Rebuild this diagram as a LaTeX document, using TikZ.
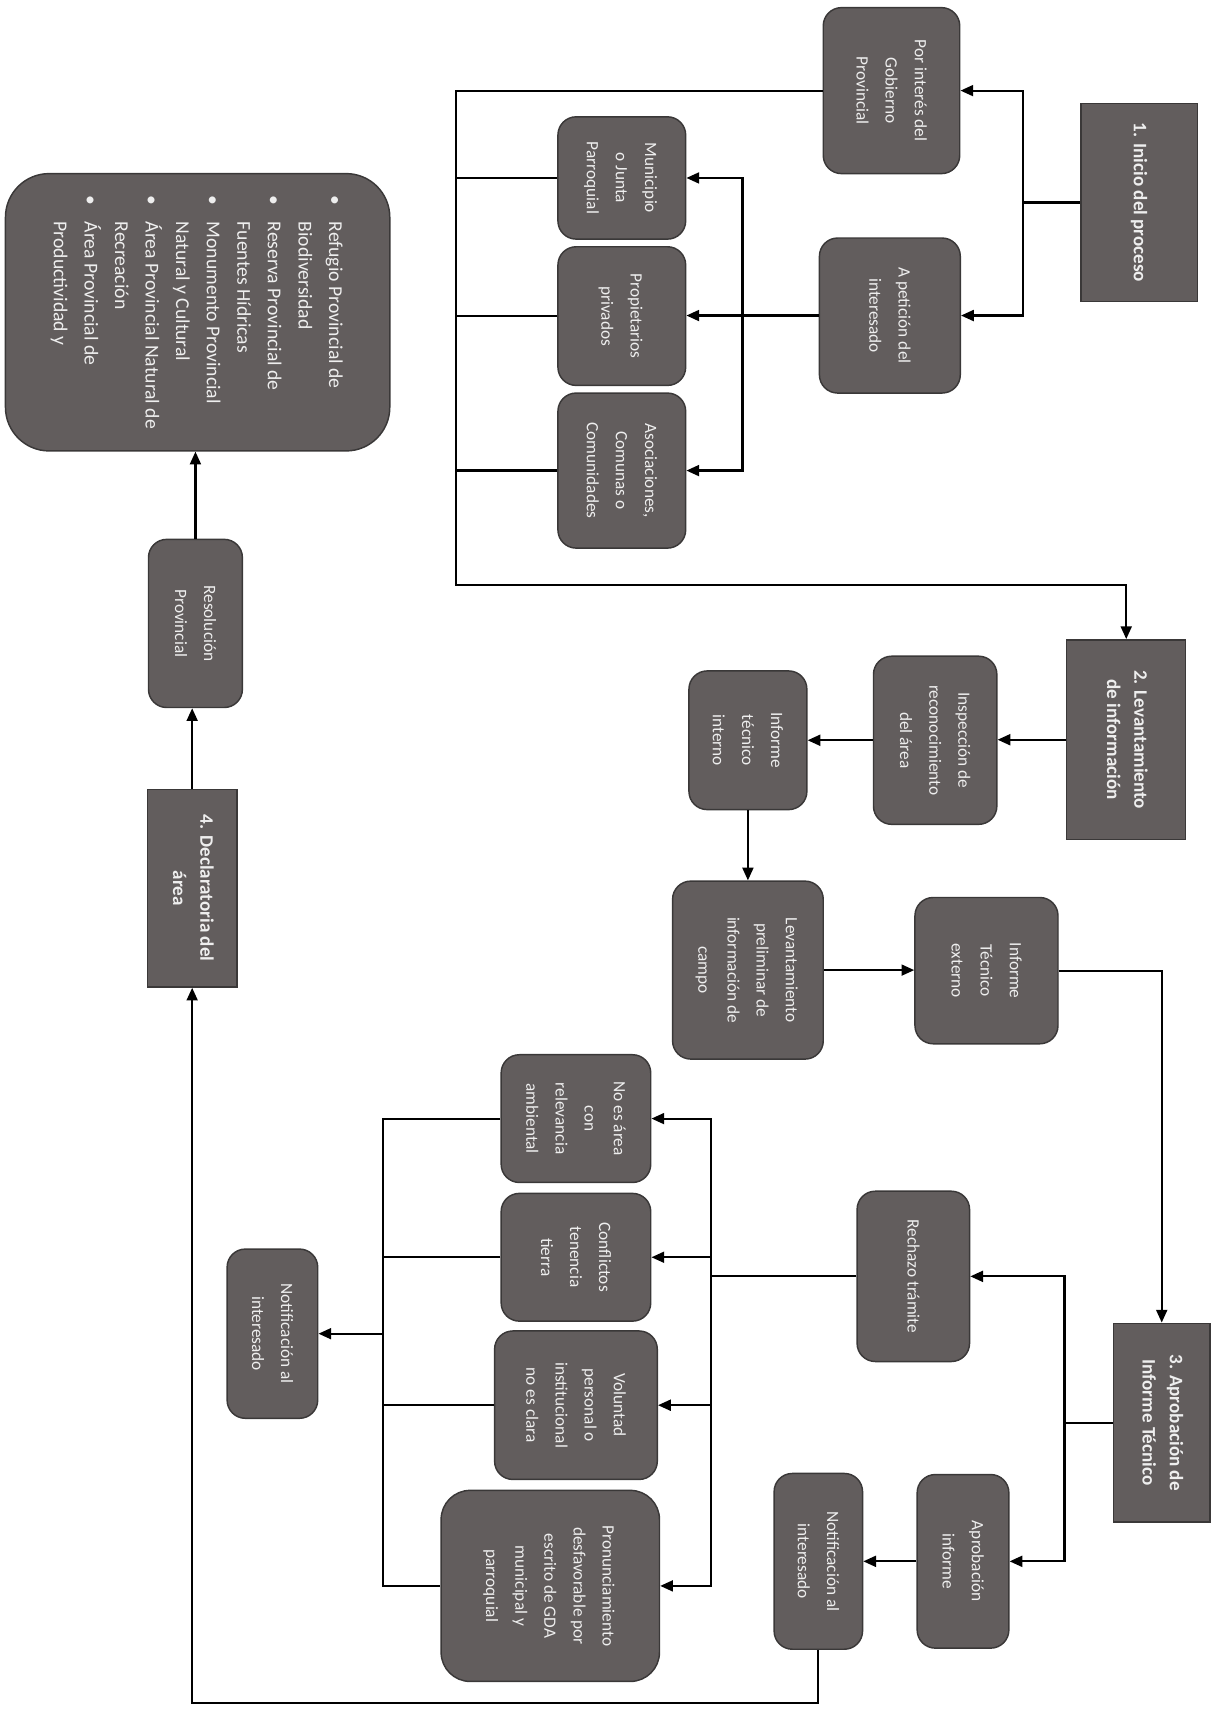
\documentclass[tikz,border=0pt]{standalone}
\usepackage{fontspec}
\setmainfont{Carlito}
\usepackage{graphicx}
\usetikzlibrary{arrows.meta}
\definecolor{caja}{RGB}{98,93,93}
\definecolor{borde}{RGB}{58,56,56}
\definecolor{letra}{RGB}{238,238,238}
\newcommand{\vtxt}[1]{\rotatebox{-90}{\begin{tabular}{@{}c@{}}#1\end{tabular}}}
\tikzset{
    paso/.style =   {rectangle,
                    rounded corners=10pt,
                    fill=caja,
                    draw=borde,
                    thick,
                    text=letra,
                    inner sep=0pt,
                    font=\fontsize{9.5}{16}\selectfont},
    etapa/.style =  {paso,
                    sharp corners,
                    font=\fontsize{10.5}{15}\selectfont\bfseries},
    linea/.style =  {very thick, draw=black},
    flecha/.style = {linea, -{Triangle[length=7pt,width=6pt]}},
    doble/.style =  {linea, {Triangle[length=7pt,width=6pt]}-{Triangle[length=7pt,width=6pt]}}}

\begin{document}
\begin{tikzpicture}[x=0.6pt,y=-0.6pt]
    \useasboundingbox (0,0) rectangle (1111,1568);
    % 1. inicio del proceso
    \node[etapa, minimum width=64.2pt, minimum height=108.6pt] (inicio)       at (1043.5,185.5) {\vtxt{1. Inicio del proceso}};
    \node[paso, minimum width=75pt,   minimum height=91.2pt]  (gobierno)     at (816.5,83)     {\vtxt{Por interés del\\Gobierno\\Provincial}};
    \node[paso, minimum width=77.4pt, minimum height=85.2pt]  (peticion)     at (815,289)      {\vtxt{A petición del\\interesado}};
    \node[paso, minimum width=70.2pt, minimum height=67.2pt]  (municipio)    at (569.5,163)    {\vtxt{Municipio\\o Junta\\Parroquial}};
    \node[paso, minimum width=70.2pt, minimum height=76.2pt]  (propietarios) at (569.5,289.5)  {\vtxt{Propietarios\\privados}};
    \node[paso, minimum width=70.2pt, minimum height=85.2pt]  (asociaciones) at (569.5,431)    {\vtxt{Asociaciones,\\Comunas o\\Comunidades}};
    \coordinate (t1)  at (937,185.5);
    \coordinate (b1)  at (680,289);
    \coordinate (bus) at (418,536);
    \draw[linea]  (inicio.west) -- (t1);
    \draw[doble]  (gobierno.east) -| (t1) |- (peticion.east);
    \draw[flecha] (peticion.west) -- (peticion.west -| propietarios.east);
    \draw[doble]  (municipio.east) -| (b1) |- (asociaciones.east);
    % 2. levantamiento de informacion
    \node[etapa, minimum width=65.4pt, minimum height=109.8pt] (levantamiento) at (1031.5,677.5) {\vtxt{2. Levantamiento\\de información}};
    \node[paso, minimum width=67.8pt, minimum height=92.4pt]  (inspeccion)    at (856.5,678)    {\vtxt{Inspección de\\reconocimiento\\del área}};
    \node[paso, minimum width=64.8pt, minimum height=76.2pt]  (interno)       at (685,678)      {\vtxt{Informe\\técnico\\interno}};
    \node[paso, minimum width=82.8pt, minimum height=97.8pt]  (preliminar)    at (685,888.5)    {\vtxt{Levantamiento\\preliminar de\\información de\\campo}};
    \node[paso, minimum width=78.6pt, minimum height=80.4pt]  (externo)       at (903.5,889)    {\vtxt{Informe\\Técnico\\externo}};
    \draw[flecha] (gobierno.west) -| (bus) -| (levantamiento.north);
    \draw[linea]  (municipio.west) -- (municipio.west -| bus);
    \draw[linea]  (propietarios.west) -- (propietarios.west -| bus);
    \draw[linea]  (asociaciones.west) -- (asociaciones.west -| bus);
    \draw[flecha] (levantamiento.west) -- (levantamiento.west -| inspeccion.east);
    \draw[flecha] (inspeccion.west) -- (inspeccion.west -| interno.east);
    \draw[flecha] (interno.south) -- (preliminar.north);
    \draw[flecha] (preliminar.east) -- (preliminar.east -| externo.west);
    % 3. aprobacion de informe tecnico
    \node[etapa, minimum width=52.8pt, minimum height=109.2pt] (aprobacion)   at (1064,1303)    {\vtxt{3. Aprobación de\\Informe Técnico}};
    \node[paso, minimum width=61.8pt, minimum height=93.6pt]  (rechazo)      at (836.5,1169)   {\vtxt{Rechazo trámite}};
    \node[paso, minimum width=50.4pt, minimum height=95.4pt]  (aprobinforme) at (882,1430)     {\vtxt{Aprobación\\informe}};
    \node[paso, minimum width=48.6pt, minimum height=96.6pt]  (notifB)       at (749.5,1430)   {\vtxt{Notificación al\\interesado}};
    \node[paso, minimum width=82.2pt, minimum height=70.2pt]  (noes)         at (527.5,1024.5) {\vtxt{No es área\\con\\relevancia\\ambiental}};
    \node[paso, minimum width=82.2pt, minimum height=70.2pt]  (conflictos)   at (527.5,1151.5) {\vtxt{Conflictos\\tenencia\\tierra}};
    \node[paso, minimum width=89.4pt, minimum height=81.6pt]  (voluntad)     at (527.5,1287)   {\vtxt{Voluntad\\personal o\\institucional\\no es clara}};
    \node[paso, minimum width=120pt,  minimum height=105pt, rounded corners=16pt] (pronunc) at (504,1452.5) {\vtxt{Pronunciamiento\\desfavorable por\\escrito de GDA\\municipal y\\parroquial}};
    \node[paso, minimum width=49.8pt, minimum height=93pt]    (notifA)       at (249.5,1221.5) {\vtxt{Notificación al\\interesado}};
    \coordinate (t3) at (975,1303);
    \coordinate (b3) at (651,1169);
    \coordinate (j3) at (351,1221.5);
    \draw[flecha] (externo.east) -| (aprobacion.north);
    \draw[linea]  (aprobacion.west) -- (t3);
    \draw[doble]  (rechazo.east) -| (t3) |- (aprobinforme.east);
    \draw[flecha] (aprobinforme.west) -- (aprobinforme.west -| notifB.east);
    \draw[linea]  (rechazo.west) -- (b3);
    \draw[doble]  (noes.east) -| (b3) |- (pronunc.east);
    \draw[flecha] (b3 |- conflictos) -- (conflictos.east);
    \draw[flecha] (b3 |- voluntad) -- (voluntad.east);
    \draw[linea]  (noes.west) -| (j3) |- (pronunc.west);
    \draw[linea]  (conflictos.west) -- (conflictos.west -| j3);
    \draw[linea]  (voluntad.west) -- (voluntad.west -| j3);
    \draw[flecha] (j3) -- (notifA.east);
    % 4. declaratoria del area
    \node[etapa, minimum width=49.2pt, minimum height=108.6pt] (declaratoria) at (176,813.5) {\vtxt{4. Declaratoria del\\área}};
    \node[paso, minimum width=51.6pt, minimum height=92.4pt]  (resolucion)   at (179,571)   {\vtxt{Resolución\\Provincial}};
    \node[paso, minimum width=211.2pt, minimum height=152.4pt, rounded corners=24pt,
          font=\fontsize{10.8}{16.8}\selectfont] (lista) at (181,286)
        {\rotatebox{-90}{\begin{tabular}{@{}l@{\hspace{9pt}}l@{}}
            \textbullet & Refugio Provincial de\\
                        & Biodiversidad\\
            \textbullet & Reserva Provincial de\\
                        & Fuentes Hídricas\\
            \textbullet & Monumento Provincial\\
                        & Natural y Cultural\\
            \textbullet & Área Provincial Natural de\\
                        & Recreación\\
            \textbullet & Área Provincial de\\
                        & Productividad y
        \end{tabular}}};
    \coordinate (ret) at (0,1560);
    \draw[flecha] (notifB.south) |- (ret -| declaratoria) -- (declaratoria.south);
    \draw[flecha] (declaratoria.north) -- (declaratoria.north |- resolucion.south);
    \draw[flecha] (resolucion.north) -- (resolucion.north |- lista.south);
\end{tikzpicture}
\end{document}
